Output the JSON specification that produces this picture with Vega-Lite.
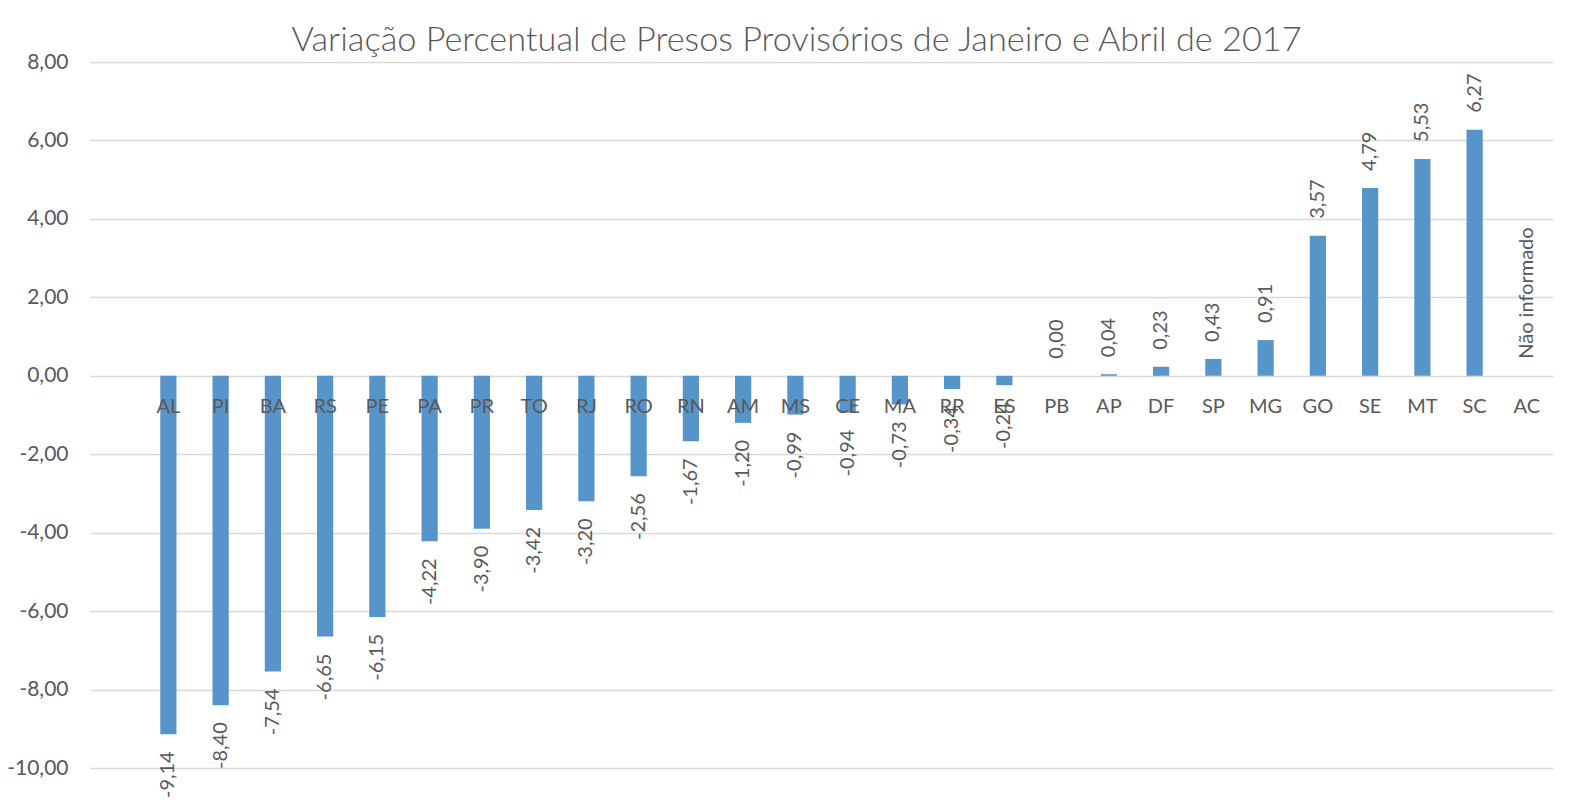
{
  "$schema": "https://vega.github.io/schema/vega-lite/v6.json",
  "autosize": "none",
  "padding": {"left": 90, "top": 62, "right": 39, "bottom": 43},
  "width": 1463,
  "height": 706,
  "background": "white",
  "config": {
    "locale": {"number": {"decimal": ",", "thousands": ".", "grouping": [3], "currency": ["R$", ""], "minus": "-"}},
    "view": {"stroke": null},
    "font": "Lato"
  },
  "title": {
    "text": "Variação Percentual de Presos Provisórios de Janeiro e Abril de 2017",
    "font": "Lato",
    "fontSize": 34.3,
    "fontWeight": 300,
    "color": "#595959",
    "anchor": "middle",
    "baseline": "alphabetic",
    "offset": 0,
    "dx": -25,
    "dy": 34
  },
  "data": {
    "values": [
      {"uf": "AL", "valor": -9.14},
      {"uf": "PI", "valor": -8.40},
      {"uf": "BA", "valor": -7.54},
      {"uf": "RS", "valor": -6.65},
      {"uf": "PE", "valor": -6.15},
      {"uf": "PA", "valor": -4.22},
      {"uf": "PR", "valor": -3.90},
      {"uf": "TO", "valor": -3.42},
      {"uf": "RJ", "valor": -3.20},
      {"uf": "RO", "valor": -2.56},
      {"uf": "RN", "valor": -1.67},
      {"uf": "AM", "valor": -1.20},
      {"uf": "MS", "valor": -0.99},
      {"uf": "CE", "valor": -0.94},
      {"uf": "MA", "valor": -0.73},
      {"uf": "RR", "valor": -0.34},
      {"uf": "ES", "valor": -0.24},
      {"uf": "PB", "valor": 0.00},
      {"uf": "AP", "valor": 0.04},
      {"uf": "DF", "valor": 0.23},
      {"uf": "SP", "valor": 0.43},
      {"uf": "MG", "valor": 0.91},
      {"uf": "GO", "valor": 3.57},
      {"uf": "SE", "valor": 4.79},
      {"uf": "MT", "valor": 5.53},
      {"uf": "SC", "valor": 6.27},
      {"uf": "AC", "valor": null, "nota": "Não informado"}
    ]
  },
  "encoding": {
    "x": {
      "field": "uf",
      "type": "nominal",
      "sort": null,
      "scale": {
        "domain": ["", "AL", "PI", "BA", "RS", "PE", "PA", "PR", "TO", "RJ", "RO", "RN", "AM", "MS", "CE", "MA", "RR", "ES", "PB", "AP", "DF", "SP", "MG", "GO", "SE", "MT", "SC", "AC"],
        "paddingInner": 0.69,
        "paddingOuter": 0.345
      },
      "axis": null
    }
  },
  "layer": [
    {
      "mark": {"type": "bar", "color": "#5694CA"},
      "encoding": {
        "y": {
          "field": "valor",
          "type": "quantitative",
          "scale": {"domain": [-10, 8], "nice": false, "zero": true},
          "axis": {
            "title": null,
            "values": [-10, -8, -6, -4, -2, 0, 2, 4, 6, 8],
            "format": ".2f",
            "grid": true,
            "gridColor": "#d9d9d9",
            "gridWidth": 1.3,
            "domain": false,
            "ticks": false,
            "labelPadding": 22,
            "labelFont": "Lato",
            "labelFontSize": 21,
            "labelColor": "#595959"
          }
        }
      }
    },
    {
      "mark": {"type": "text", "font": "Lato", "fontSize": 20, "color": "#595959", "baseline": "middle", "align": "center", "dy": 31},
      "encoding": {
        "y": {"datum": 0, "type": "quantitative"},
        "text": {"field": "uf"}
      }
    },
    {
      "transform": [{"filter": "datum.valor != null && datum.valor < 0"}],
      "mark": {"type": "text", "font": "Lato", "fontSize": 20, "color": "#595959", "angle": 270, "align": "right", "baseline": "middle", "dx": -17},
      "encoding": {
        "y": {"field": "valor", "type": "quantitative"},
        "text": {"field": "valor", "type": "quantitative", "format": ".2f"}
      }
    },
    {
      "transform": [{"filter": "datum.valor != null && datum.valor >= 0"}],
      "mark": {"type": "text", "font": "Lato", "fontSize": 20, "color": "#595959", "angle": 270, "align": "left", "baseline": "middle", "dx": 17},
      "encoding": {
        "y": {"field": "valor", "type": "quantitative"},
        "text": {"field": "valor", "type": "quantitative", "format": ".2f"}
      }
    },
    {
      "transform": [{"filter": "datum.valor == null"}],
      "mark": {"type": "text", "font": "Lato", "fontSize": 20, "color": "#595959", "angle": 270, "align": "left", "baseline": "middle", "dx": 17},
      "encoding": {
        "y": {"datum": 0, "type": "quantitative"},
        "text": {"field": "nota"}
      }
    }
  ]
}
